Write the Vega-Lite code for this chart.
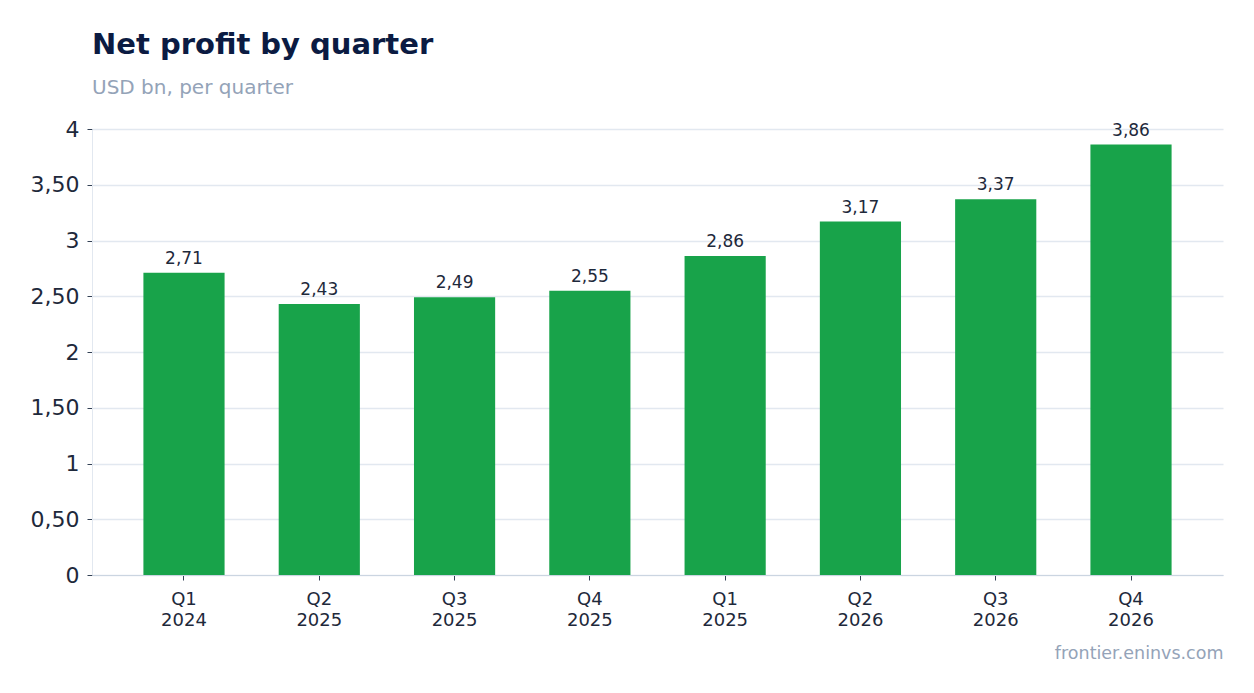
{
  "$schema": "https://vega.github.io/schema/vega-lite/v6.json",
  "width": 1131,
  "height": 446,
  "autosize": {"type": "none"},
  "padding": {"left": 92, "top": 129, "right": 31, "bottom": 118},
  "background": "#ffffff",
  "title": {
    "text": "Net profit by quarter",
    "subtitle": "USD bn, per quarter",
    "anchor": "start",
    "frame": "group",
    "font": "DejaVu Sans",
    "fontSize": 29,
    "fontWeight": "bold",
    "color": "#0b1b42",
    "subtitleFont": "DejaVu Sans",
    "subtitleFontSize": 20,
    "subtitleColor": "#94a3b8",
    "subtitlePadding": 18,
    "offset": 20
  },
  "data": {
    "values": [
      {"quarter": "Q1 2024", "profit": 2.71},
      {"quarter": "Q2 2025", "profit": 2.43},
      {"quarter": "Q3 2025", "profit": 2.49},
      {"quarter": "Q4 2025", "profit": 2.55},
      {"quarter": "Q1 2025", "profit": 2.86},
      {"quarter": "Q2 2026", "profit": 3.17},
      {"quarter": "Q3 2026", "profit": 3.37},
      {"quarter": "Q4 2026", "profit": 3.86}
    ]
  },
  "config": {
    "font": "DejaVu Sans",
    "view": {"stroke": null}
  },
  "encoding": {
    "x": {
      "field": "quarter",
      "type": "nominal",
      "sort": null,
      "scale": {"paddingInner": 0.4, "paddingOuter": 0.38},
      "axis": {
        "title": "frontier.eninvs.com",
        "titleAnchor": "end",
        "titleAlign": "right",
        "titleFontSize": 17.5,
        "titleFontWeight": "normal",
        "titleColor": "#94a3b8",
        "titlePadding": 15,
        "labelExpr": "split(datum.label, ' ')",
        "labelAngle": 0,
        "labelFontSize": 18,
        "labelColor": "#1e293b",
        "labelPadding": 10,
        "labelLineHeight": 21,
        "tickColor": "#334155",
        "tickSize": 5,
        "domainColor": "#cbd5e1"
      }
    },
    "y": {
      "field": "profit",
      "type": "quantitative",
      "scale": {"domain": [0, 4]},
      "axis": {
        "title": null,
        "values": [0, 0.5, 1, 1.5, 2, 2.5, 3, 3.5, 4],
        "labelExpr": "datum.value % 1 == 0 ? format(datum.value, 'd') : replace(format(datum.value, '.2f'), '.', ',')",
        "labelFontSize": 22,
        "labelColor": "#1e293b",
        "labelPadding": 8,
        "tickColor": "#334155",
        "tickSize": 5,
        "domainColor": "#e2e8f0",
        "gridColor": "#e2e8f0",
        "gridWidth": 1.5
      }
    }
  },
  "layer": [
    {
      "mark": {"type": "bar", "color": "#18a34a"}
    },
    {
      "mark": {
        "type": "text",
        "baseline": "bottom",
        "dy": -5,
        "fontSize": 17,
        "color": "#1e293b"
      },
      "encoding": {
        "text": {"field": "label", "type": "nominal"}
      },
      "transform": [
        {"calculate": "replace(format(datum.profit, '.2f'), '.', ',')", "as": "label"}
      ]
    }
  ]
}
